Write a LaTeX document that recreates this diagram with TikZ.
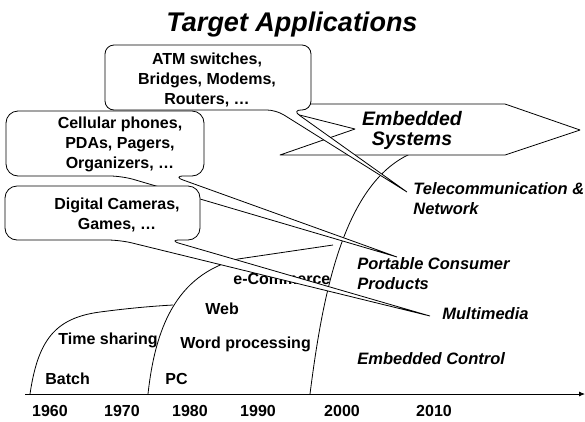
\documentclass[tikz,border=0pt]{standalone}
\usepackage{fontspec}
\setmainfont{Liberation Sans}
\usetikzlibrary{arrows.meta}
\tikzset{
  lbl/.style={font=\fontsize{16}{20}\selectfont\bfseries, inner sep=0pt},
  ilbl/.style={font=\fontsize{16.5}{20}\selectfont\bfseries\itshape, inner sep=0pt},
  boxtxt/.style={lbl, align=center, anchor=north},
  callout/.style={draw, fill=white, rounded corners=#1},
}
\begin{document}
\begin{tikzpicture}[x=1pt, y=-1pt, line width=0.8pt, line join=round]
\useasboundingbox (0,0) rectangle (585,421);

% time axis
\coordinate (t0) at (25,394);
\coordinate (t1) at (585,394);
\draw[-{Latex[length=6pt,width=5pt]}] (t0) -- (t1);
\foreach \yr/\xx in {1960/50,1970/122,1980/190,1990/258,2000/342,2010/434}
  \node[lbl, anchor=base] (y\yr) at (\xx,416) {\yr};

% growth curves of the computing eras
\draw (30,394) .. controls (38,340) and (55,318) .. (100,312)
      .. controls (130,308) and (155,306) .. (173,305);
\draw (148,394) .. controls (155,330) and (175,275) .. (238,259) -- (333,245);
\draw (310,394) .. controls (322,300) and (342,185) .. (410,154);

% era labels
\node[lbl, anchor=base west] (batch) at (45,384) {Batch};
\node[lbl, anchor=base west] (pc) at (165,384) {PC};
\node[lbl, anchor=base west] (ts) at (58,344) {Time sharing};
\node[lbl, anchor=base west] (wp) at (180,348) {Word processing};
\node[lbl, anchor=base west] (web) at (205,314) {Web};
\node[lbl, anchor=base west] (ecom) at (233,284) {e-Commerce};
\node[ilbl, anchor=base west] (ctrl) at (357,364) {Embedded Control};
\node[ilbl, anchor=base west] (mm) at (442,319) {Multimedia};
\node[ilbl, align=left, anchor=north west] (pcp) at (357,257) {Portable Consumer\\Products};
\node[ilbl, align=left, anchor=north west] (tel) at (413,182) {Telecommunication \&\\Network};

% embedded systems banner
\filldraw[fill=white] (256,104) -- (505,104) -- (580,130) -- (505,155)
  -- (280,155) -- (355,129) -- cycle;
\node[font=\fontsize{19.5}{20}\selectfont\bfseries\itshape, inner sep=0pt,
      align=center, anchor=north] (es) at (412,110.6) {Embedded\\Systems};

% callout: portable devices
\coordinate (celltip) at (397,257);
\path[callout=12pt] (celltip) -- (122,176) -- (6,176) -- (6,111) -- (204,111)
  -- (204,176) -- (172,176) -- (celltip);
\node[boxtxt] (cell) at (120,116.3) {Cellular phones,\\PDAs, Pagers,\\Organizers, …};

% callout: multimedia devices
\coordinate (digtip) at (430,316);
\path[callout=12pt] (digtip) -- (120,240) -- (5,240) -- (5,186) -- (200,186)
  -- (200,240) -- (168,240) -- (digtip);
\node[boxtxt] (dig) at (117,197.3) {Digital Cameras,\\Games, …};

% callout: network equipment
\coordinate (atmtip) at (407,192);
\path[callout=9pt] (atmtip) -- (276,110) -- (105,110) -- (105,45) -- (311,45)
  -- (311,110) -- (292,110) -- (atmtip);
\node[boxtxt] (atm) at (207,52.3) {ATM switches,\\Bridges, Modems,\\Routers, …};

% title
\node[font=\fontsize{27}{30}\selectfont\bfseries\itshape, inner sep=0pt,
      anchor=base] (title) at (292,31) {Target Applications};
\end{tikzpicture}
\end{document}
